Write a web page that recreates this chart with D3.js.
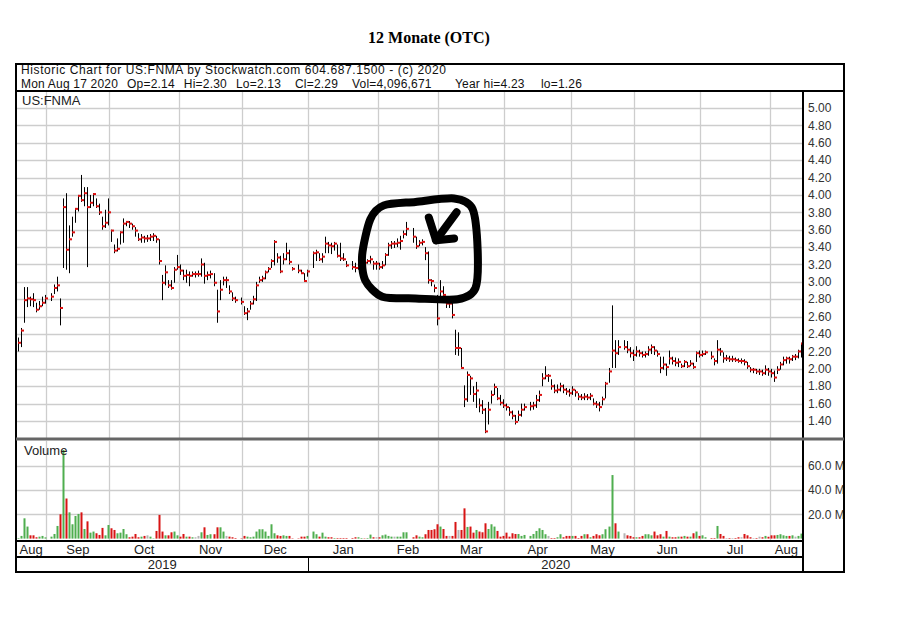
<!DOCTYPE html>
<html><head><meta charset="utf-8">
<script src="https://cdn.jsdelivr.net/npm/d3@7"></script>
<style>body{margin:0;background:#fff}svg{display:block}</style>
</head><body><svg id="c" width="898" height="624"></svg>
<script>
// ---------------- DATA ----------------
const title = "12 Monate (OTC)";
const headerLine1 = "Historic Chart for US:FNMA by Stockwatch.com 604.687.1500 - (c) 2020";
const headerFields = ["Mon Aug 17 2020","Op=2.14","Hi=2.30","Lo=2.13","Cl=2.29","Vol=4,096,671","Year hi=4.23","lo=1.26"];
const symbol = "US:FNMA";
const firstDay = "2019-08-19";            // first weekday slot of the chart
const slotCount = 261;                     // weekdays up to Mon Aug 17 2020
const holidays = ["2019-09-02","2019-11-28","2019-12-25","2020-01-01","2020-01-20","2020-02-17","2020-04-10","2020-05-25","2020-07-03"];
const priceTicks = [5.00,4.80,4.60,4.40,4.20,4.00,3.80,3.60,3.40,3.20,3.00,2.80,2.60,2.40,2.20,2.00,1.80,1.60,1.40];
const volumeTicks = [20,40,60];           // millions
const yearLabels = ["2019","2020"];

// one entry per weekday slot, null = market holiday
const high = [2.36,2.47,2.94,2.94,2.83,2.87,2.76,2.78,2.83,2.85,null,2.87,2.97,3.06,2.81,3.96,4.02,3.65,3.75,3.85,
4.00,4.23,4.09,4.09,4.00,4.02,3.96,3.90,3.75,3.83,3.96,3.60,3.43,3.50,3.58,3.73,3.70,3.70,3.67,3.63,
3.56,3.55,3.53,3.54,3.55,3.56,3.53,3.49,3.08,3.19,3.02,3.02,3.17,3.31,3.20,3.14,3.14,3.12,3.12,3.12,
3.13,3.27,3.22,3.12,3.13,3.10,2.91,3.02,3.06,3.06,2.96,2.88,2.83,null,2.82,2.72,2.70,2.78,2.84,3.00,
3.06,3.07,3.13,3.17,3.26,3.48,3.33,3.30,3.33,3.45,3.37,3.17,null,3.20,3.14,3.10,3.14,null,3.35,3.37,
3.33,3.33,3.52,3.46,3.45,3.46,3.43,3.45,3.33,3.24,null,3.24,3.22,3.21,3.26,3.26,3.26,3.30,3.24,3.24,
3.22,3.24,3.33,3.45,3.47,3.47,3.50,3.53,3.59,3.69,null,3.62,3.52,3.48,3.49,3.40,3.35,3.03,2.97,2.85,
3.02,2.95,2.80,2.78,2.78,2.45,2.42,2.24,1.81,1.97,1.92,1.80,1.85,1.66,1.64,1.55,1.62,1.75,1.83,1.78,
1.70,1.65,1.60,1.56,1.52,1.47,1.52,1.60,1.60,null,1.62,1.62,1.70,1.75,1.95,2.03,1.94,1.88,1.82,1.82,
1.84,1.82,1.78,1.77,1.80,1.76,1.72,1.71,1.72,1.71,1.72,1.66,1.63,1.62,1.68,1.85,2.01,2.73,2.33,2.33,
null,2.33,2.32,2.25,2.22,2.26,2.22,2.20,2.20,2.26,2.28,2.26,2.21,2.14,2.14,2.06,2.21,2.14,2.13,2.12,
2.06,2.10,2.08,2.10,2.07,2.20,2.21,2.21,2.21,null,2.20,2.12,2.33,2.24,2.19,2.16,2.15,2.15,2.13,2.12,
2.12,2.11,2.08,2.02,2.01,2.00,2.00,1.99,2.04,2.01,2.00,1.98,2.03,2.08,2.14,2.14,2.14,2.16,2.17,2.22,2.30];
const low = [2.20,2.25,2.53,2.71,2.72,2.71,2.65,2.68,2.72,2.75,null,2.78,2.86,2.89,2.50,3.16,3.14,3.10,3.52,3.68,
3.81,3.92,3.87,3.17,3.85,3.87,3.85,3.77,3.60,3.62,3.65,3.46,3.33,3.35,3.43,3.45,3.64,3.62,3.60,3.52,
3.47,3.45,3.45,3.46,3.47,3.47,3.45,3.20,2.79,2.96,2.93,2.91,2.99,3.14,3.08,3.02,2.99,2.95,3.06,3.05,
3.06,3.06,2.98,3.02,3.04,2.95,2.53,2.79,2.96,2.93,2.86,2.78,2.76,null,2.74,2.62,2.56,2.68,2.74,2.78,
2.99,3.00,3.03,3.11,3.16,3.19,3.22,3.10,3.20,3.25,3.20,3.13,null,3.10,3.09,3.00,3.06,null,3.16,3.24,
3.24,3.22,3.33,3.33,3.32,3.36,3.28,3.24,3.24,3.17,null,3.14,3.11,3.14,3.20,3.20,3.21,3.21,3.14,3.14,
3.14,3.15,3.19,3.30,3.38,3.39,3.40,3.37,3.50,3.53,null,3.45,3.38,3.41,3.42,3.25,2.98,2.95,2.88,2.50,
2.80,2.80,2.70,2.70,2.58,2.16,2.15,2.00,1.56,1.62,1.70,1.62,1.55,1.50,1.48,1.26,1.36,1.60,1.70,1.64,
1.58,1.55,1.52,1.46,1.42,1.36,1.40,1.45,1.52,null,1.52,1.53,1.55,1.62,1.80,1.88,1.85,1.76,1.72,1.72,
1.74,1.72,1.70,1.68,1.70,1.68,1.64,1.64,1.64,1.64,1.64,1.58,1.55,1.51,1.58,1.66,1.84,2.01,2.01,2.16,
null,2.22,2.18,2.13,2.09,2.14,2.14,2.13,2.13,2.15,2.17,2.16,2.14,1.95,1.99,1.92,2.05,2.05,2.03,2.02,
2.01,2.02,2.01,2.03,2.00,2.08,2.13,2.14,2.16,null,2.11,2.04,2.06,2.15,2.07,2.09,2.08,2.08,2.08,2.07,
2.06,2.04,2.00,1.96,1.95,1.94,1.93,1.92,1.93,1.92,1.90,1.85,1.94,1.99,2.04,2.06,2.06,2.09,2.10,2.12,2.13];
const close = [2.30,2.44,2.79,2.81,2.80,2.79,2.68,2.72,2.76,2.81,null,2.83,2.93,2.96,2.70,3.86,3.37,3.49,3.57,3.84,
3.99,3.94,4.02,3.86,3.91,4.01,3.87,3.80,3.64,3.68,3.80,3.59,3.36,3.38,3.57,3.67,3.69,3.67,3.64,3.59,
3.49,3.51,3.50,3.50,3.52,3.53,3.49,3.24,2.99,3.11,2.96,2.93,3.14,3.17,3.13,3.07,3.08,3.07,3.09,3.09,
3.09,3.20,3.07,3.08,3.09,2.99,2.66,2.91,3.02,3.02,2.89,2.81,2.79,null,2.77,2.64,2.66,2.75,2.80,2.96,
3.02,3.04,3.11,3.15,3.24,3.46,3.28,3.12,3.26,3.33,3.23,3.15,null,3.13,3.10,3.01,3.12,null,3.33,3.34,
3.26,3.29,3.44,3.42,3.41,3.44,3.30,3.27,3.26,3.19,null,3.17,3.16,3.17,3.24,3.22,3.24,3.26,3.21,3.21,
3.17,3.19,3.31,3.42,3.44,3.44,3.45,3.47,3.55,3.61,null,3.52,3.41,3.45,3.46,3.33,3.02,3.01,2.93,2.58,
2.89,2.85,2.75,2.75,2.62,2.24,2.24,2.01,1.65,1.93,1.89,1.71,1.75,1.58,1.53,1.28,1.53,1.70,1.79,1.66,
1.61,1.58,1.56,1.50,1.46,1.39,1.47,1.53,1.56,null,1.57,1.58,1.64,1.70,1.89,1.92,1.92,1.80,1.75,1.76,
1.80,1.76,1.74,1.72,1.76,1.73,1.68,1.67,1.68,1.67,1.69,1.60,1.59,1.56,1.65,1.83,1.97,2.21,2.18,2.25,
null,2.25,2.22,2.18,2.16,2.20,2.18,2.16,2.17,2.22,2.25,2.21,2.17,2.01,2.05,2.02,2.12,2.09,2.07,2.08,
2.03,2.08,2.03,2.06,2.02,2.18,2.16,2.17,2.19,null,2.14,2.09,2.22,2.20,2.12,2.12,2.11,2.11,2.10,2.09,
2.09,2.08,2.03,1.99,1.99,1.97,1.97,1.95,1.99,1.97,1.95,1.90,1.99,2.05,2.10,2.12,2.11,2.14,2.14,2.20,2.29];
const volume = [0.5,2.2,16.7,9.9,2.7,2.7,1.1,1.6,2.2,1.0,null,1.6,3.8,10.4,20.0,72.9,33.0,21.6,11.8,18.6,
20.3,21.6,7.9,14.2,4.9,5.8,4.4,3.0,8.8,2.7,11.2,8.5,7.1,4.4,4.9,7.9,3.6,1.1,1.6,3.8,
1.1,1.6,2.2,2.7,1.6,0.3,6.3,19.5,5.8,2.7,2.7,5.2,5.8,2.7,1.6,3.8,1.6,1.6,1.1,1.1,
2.2,5.2,9.3,3.0,3.6,3.6,9.3,9.3,5.8,2.2,1.6,1.1,0.5,null,0.3,2.2,1.6,1.1,1.6,5.8,
7.7,7.7,5.8,2.2,11.8,4.4,2.7,2.2,2.7,2.2,2.2,0.3,null,0.3,1.6,1.6,2.2,null,5.8,3.6,
1.6,4.9,1.6,1.1,1.1,0.5,0.5,0.5,0.5,0.5,null,0.5,1.1,1.1,0.5,0.3,0.5,3.3,1.1,1.1,
1.1,2.7,3.3,2.2,1.6,1.6,1.6,1.6,5.2,5.2,null,1.1,2.7,1.6,1.1,3.6,7.1,7.1,7.7,11.8,
9.9,7.9,2.2,2.2,2.2,13.7,7.1,7.1,24.9,9.6,9.9,4.9,7.1,5.8,5.2,12.6,7.9,11.8,9.9,6.3,
1.6,2.2,4.9,1.6,4.4,3.8,3.8,2.2,3.0,null,2.2,3.8,6.3,8.5,7.1,3.6,2.2,0.5,0.5,1.1,
3.6,1.1,2.2,2.2,2.2,2.2,0.5,2.2,3.6,3.6,1.1,2.2,3.6,2.7,3.6,7.7,9.9,52.3,12.6,5.8,
null,4.4,2.7,2.2,1.1,1.1,1.1,2.2,3.6,3.6,2.7,5.8,2.7,3.6,1.6,6.3,1.6,1.1,1.1,1.6,
1.6,2.2,1.6,1.6,4.4,5.8,2.2,2.7,1.1,null,0.5,0.5,10.4,3.8,2.2,0.5,0.5,0.5,0.5,1.1,
1.1,3.8,2.7,1.1,0.5,0.5,1.6,1.1,2.2,1.5,2.7,2.7,3.0,3.6,2.7,2.2,2.2,2.7,1.6,2.2,4.1];

// hand-drawn annotation (slot index, price)
const circleMark = [[114.3,3.31],[117.0,3.72],[121.5,3.88],[132.0,3.92],[144.8,3.96],[150.9,3.84],[152.6,3.37],[151.9,2.93],[146.0,2.80],[132.0,2.81],[121.0,2.83],[115.3,3.02]];
const arrowMark = [[[145.6,3.80],[138.8,3.48]],[[136.4,3.74],[138.8,3.48],[144.8,3.50]]];

// ---------------- LAYOUT ----------------
const L = 16, R = 844, T = 64, B = 572, AX = 803;
const hdrY = 91, priceBottom = 438, volTop = 441, volBottom = 541, monthBottom = 557;
const FONT = "'Liberation Sans', Arial, sans-serif";
const headerFieldX = [21, 125, 178, 233, 295, 352, 455, 541];

const svg = d3.select("#c");
const parse = d3.timeParse("%Y-%m-%d");
const start = parse(firstDay);
const dates = d3.timeDay.range(start, d3.timeDay.offset(start, 400))
  .filter(d => d.getDay() !== 0 && d.getDay() !== 6).slice(0, slotCount);

const x = d3.scaleLinear().domain([-0.5, slotCount - 0.5]).range([L, AX]);
const y = d3.scaleLinear().domain([1.4, 5.0]).range([421, 108]);
const yv = d3.scaleLinear().domain([0, 60]).range([538.6, 465.7]);

const monthStarts = [];
dates.forEach((d, i) => { if (i > 0 && d.getMonth() !== dates[i - 1].getMonth()) monthStarts.push(i); });
const monthEdges = [-0.5, ...monthStarts.map(i => i - 0.5), slotCount - 0.5];
const fmtMon = d3.timeFormat("%b");

svg.append("text").attr("x", 429).attr("y", 43).attr("text-anchor", "middle")
  .attr("font-family", "'Liberation Serif','Times New Roman',serif").attr("font-weight", "bold")
  .attr("font-size", 16).text(title);

const defs = svg.append("defs");
defs.append("clipPath").attr("id", "pc").append("rect").attr("x", L).attr("y", hdrY).attr("width", AX - L).attr("height", priceBottom - hdrY);
defs.append("clipPath").attr("id", "rc").append("rect").attr("x", AX).attr("y", T).attr("width", R - AX - 1).attr("height", B - T);

const grid = svg.append("g").attr("stroke", "#cdcdcd").attr("stroke-width", 1.3);
grid.selectAll(".hp").data(priceTicks).join("line")
  .attr("x1", L).attr("x2", AX).attr("y1", d => Math.round(y(d)) + 0.5).attr("y2", d => Math.round(y(d)) + 0.5);
grid.selectAll(".hv").data(volumeTicks).join("line")
  .attr("x1", L).attr("x2", AX).attr("y1", d => Math.round(yv(d)) + 0.5).attr("y2", d => Math.round(yv(d)) + 0.5);
monthStarts.forEach(i => {
  const gx = Math.round(x(i - 0.5)) + 0.5;
  grid.append("line").attr("x1", gx).attr("x2", gx).attr("y1", hdrY).attr("y2", priceBottom);
  grid.append("line").attr("x1", gx).attr("x2", gx).attr("y1", volTop).attr("y2", volBottom);
});

const idx = d3.range(slotCount).filter(i => close[i] != null);
const bars = svg.append("g").attr("clip-path", "url(#pc)");
bars.selectAll("line.b").data(idx).join("line")
  .attr("x1", i => Math.round(x(i)) + 0.5).attr("x2", i => Math.round(x(i)) + 0.5)
  .attr("y1", i => y(high[i])).attr("y2", i => y(low[i]))
  .attr("stroke", "#000").attr("stroke-width", 1);
bars.selectAll("rect.c").data(idx).join("rect")
  .attr("x", i => Math.round(x(i))).attr("y", i => y(close[i]) - 1)
  .attr("width", 3).attr("height", 2).attr("fill", "#dd1111");

const vcol = i => {
  let p = i - 1; while (p >= 0 && close[p] == null) p--;
  if (p < 0 || close[i] > close[p]) return "#4fae4f";
  if (close[i] < close[p]) return "#d81414";
  return "#b4b4b4";
};
svg.append("g").selectAll("rect").data(idx.filter(i => volume[i] != null)).join("rect")
  .attr("x", i => Math.round(x(i)) - 0.5).attr("width", 2)
  .attr("y", i => yv(volume[i])).attr("height", i => yv(0) - yv(volume[i]))
  .attr("fill", vcol);

const ann = svg.append("g").attr("clip-path", "url(#pc)").attr("fill", "none").attr("stroke", "#000")
  .attr("stroke-width", 8).attr("stroke-linecap", "round").attr("stroke-linejoin", "round");
ann.append("path").attr("d", d3.line().x(d => x(d[0])).y(d => y(d[1])).curve(d3.curveCardinalClosed.tension(0.2))(circleMark));
arrowMark.forEach(seg => ann.append("path").attr("d", d3.line().x(d => x(d[0])).y(d => y(d[1]))(seg)));

svg.append("text").attr("x", 22).attr("y", 105).attr("font-family", FONT).attr("font-size", 13).attr("fill", "#222").text(symbol);
svg.append("text").attr("x", 24).attr("y", 455).attr("font-family", FONT).attr("font-size", 13).attr("fill", "#222").text("Volume");

// header (two lines)
svg.append("text").attr("x", 21).attr("y", 74).attr("font-family", FONT).attr("font-size", 12)
  .attr("letter-spacing", 0.6).attr("fill", "#111").text(headerLine1);
const h2 = svg.append("text").attr("y", 88).attr("font-family", FONT).attr("font-size", 12)
  .attr("letter-spacing", 0.2).attr("fill", "#111");
let prevEnd = -Infinity;
headerFields.forEach((f, k) => {
  const ts = h2.append("tspan").text(f);
  const px = Math.max(headerFieldX[k], prevEnd + 9);
  ts.attr("x", px);
  prevEnd = px + ts.node().getComputedTextLength();
});

const axg = svg.append("g").attr("font-family", FONT).attr("font-size", 12).attr("fill", "#333");
axg.selectAll("text.p").data(priceTicks).join("text")
  .attr("x", 808).attr("y", d => y(d)).attr("dy", "0.35em").text(d => d3.format(".2f")(d));
axg.append("g").attr("clip-path", "url(#rc)").selectAll("text").data(volumeTicks).join("text")
  .attr("x", 808).attr("y", d => yv(d)).attr("dy", "0.35em").text(d => d3.format(".1f")(d) + " M");

const mg = svg.append("g").attr("font-family", FONT).attr("font-size", 13).attr("fill", "#222").attr("text-anchor", "middle");
for (let k = 0; k < monthEdges.length - 1; k++) {
  const a = monthEdges[k], b = monthEdges[k + 1];
  mg.append("text").attr("x", (x(a) + x(b)) / 2).attr("y", 554).text(fmtMon(dates[Math.ceil(a)]));
}
const yearStart = dates.findIndex(d => d.getFullYear() === 2020);
const yEdge = x(yearStart - 0.5);
mg.append("text").attr("x", (L + yEdge) / 2).attr("y", 569).text(yearLabels[0]);
mg.append("text").attr("x", (yEdge + AX) / 2).attr("y", 569).text(yearLabels[1]);

const fr = svg.append("g").attr("stroke", "#000").attr("fill", "none");
fr.append("rect").attr("x", L).attr("y", T).attr("width", R - L).attr("height", B - T).attr("stroke-width", 2);
fr.append("line").attr("x1", L).attr("x2", R).attr("y1", hdrY).attr("y2", hdrY).attr("stroke-width", 2);
fr.append("line").attr("x1", AX).attr("x2", AX).attr("y1", hdrY).attr("y2", B).attr("stroke-width", 2);
fr.append("line").attr("x1", L).attr("x2", R).attr("y1", 439).attr("y2", 439).attr("stroke", "#666").attr("stroke-width", 3);
fr.append("line").attr("x1", L).attr("x2", AX).attr("y1", volBottom).attr("y2", volBottom).attr("stroke-width", 2);
fr.append("line").attr("x1", L).attr("x2", AX).attr("y1", monthBottom).attr("y2", monthBottom).attr("stroke-width", 2);
fr.append("line").attr("x1", Math.round(yEdge) + 0.5).attr("x2", Math.round(yEdge) + 0.5).attr("y1", monthBottom).attr("y2", B).attr("stroke-width", 1);
</script></body></html>
